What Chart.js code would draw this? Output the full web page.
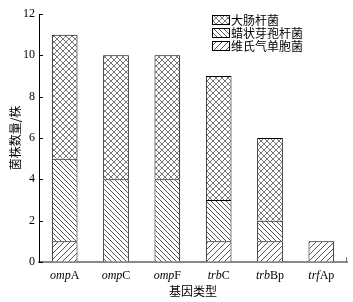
<!DOCTYPE html>
<html>
<head>
<meta charset="utf-8">
<script src="https://cdn.jsdelivr.net/npm/chart.js@4.4.0/dist/chart.umd.min.js"></script>
<style>
  html, body { margin: 0; padding: 0; background: #fff; }
  #chart { display: block; }
</style>
</head>
<body>
<canvas id="chart" width="353" height="302"></canvas>
<script>
// gene labels: italic prefix + upright suffix
const genePrefix = ['omp', 'omp', 'omp', 'trb', 'trb', 'trf'];
const geneSuffix = ['A', 'C', 'F', 'C', 'Bp', 'Ap'];
const categories = genePrefix.map((p, i) => p + geneSuffix[i]);

// strain counts per gene (bottom -> top of stack)
const aeromonas = [1, 0, 0, 1, 1, 1];   // 维氏气单胞菌
const bcereus   = [4, 4, 4, 2, 1, 0];   // 蜡状芽孢杆菌
const ecoli     = [6, 6, 6, 6, 4, 0];   // 大肠杆菌

const seriesNames = ['维氏气单胞菌', '蜡状芽孢杆菌', '大肠杆菌'];
const yTicks = [0, 2, 4, 6, 8, 10, 12];

const serif = "'Liberation Serif', 'DejaVu Serif', serif";
const cjk = "'Noto Sans CJK SC', sans-serif";

// hatch patterns
function makeHatch(kind, size, color) {
    const c = document.createElement('canvas');
    c.width = size; c.height = size;
    const g = c.getContext('2d');
    g.fillStyle = '#fff';
    g.fillRect(0, 0, size, size);
    g.strokeStyle = color;
    g.lineWidth = 1;
    g.beginPath();
    if (kind === 'back' || kind === 'cross') {
        g.moveTo(-1, -1); g.lineTo(size + 1, size + 1);
        g.moveTo(-1, size - 1); g.lineTo(1, size + 1);
        g.moveTo(size - 1, -1); g.lineTo(size + 1, 1);
    }
    if (kind === 'fwd' || kind === 'cross') {
        g.moveTo(-1, size + 1); g.lineTo(size + 1, -1);
        g.moveTo(-1, 1); g.lineTo(1, -1);
        g.moveTo(size - 1, size + 1); g.lineTo(size + 1, size - 1);
    }
    g.stroke();
    return document.getElementById('chart').getContext('2d').createPattern(c, 'repeat');
}

const patFwd = makeHatch('fwd', 6, '#555');
const patBack = makeHatch('back', 5, '#555');
const patCross = makeHatch('cross', 6, '#777');
const patterns = [patFwd, patBack, patCross];

// inward y ticks, right-end x tick, gene labels, legend
const extras = {
    id: 'extras',
    afterDraw(chart) {
        const ctx = chart.ctx;
        const area = chart.chartArea;
        const x = chart.scales.x, y = chart.scales.y;
        ctx.save();
        ctx.strokeStyle = '#000';
        ctx.lineWidth = 1;
        y.ticks.forEach((t, i) => {
            const py = Math.round(y.getPixelForTick(i)) + 0.5;
            ctx.beginPath();
            ctx.moveTo(area.left, py);
            ctx.lineTo(area.left + 4, py);
            ctx.stroke();
        });
        ctx.strokeStyle = '#777';
        ctx.beginPath();
        ctx.moveTo(area.right - 0.5, area.bottom);
        ctx.lineTo(area.right - 0.5, area.bottom - 5);
        ctx.stroke();

        // gene labels
        ctx.fillStyle = '#000';
        ctx.textBaseline = 'middle';
        categories.forEach((c, i) => {
            const cx = x.getPixelForValue(i);
            ctx.font = 'italic 12px ' + serif;
            const w1 = ctx.measureText(genePrefix[i]).width;
            ctx.font = '12px ' + serif;
            const w2 = ctx.measureText(geneSuffix[i]).width;
            const sx = cx - (w1 + w2) / 2;
            ctx.textAlign = 'left';
            ctx.font = 'italic 12px ' + serif;
            ctx.fillText(genePrefix[i], sx, area.bottom + 14);
            ctx.font = '12px ' + serif;
            ctx.fillText(geneSuffix[i], sx + w1, area.bottom + 14);
        });

        // legend (top series first)
        ctx.font = '12px ' + cjk;
        for (let k = 0; k < 3; k++) {
            const di = 2 - k;
            const ly = 15 + k * 13;
            ctx.fillStyle = patterns[di];
            ctx.fillRect(212, ly, 17, 9);
            ctx.strokeStyle = '#000';
            ctx.strokeRect(212.5, ly + 0.5, 17, 9);
            ctx.fillStyle = '#000';
            ctx.fillText(seriesNames[di], 231, ly + 5);
        }
        ctx.restore();
    }
};

const ctx = document.getElementById('chart').getContext('2d');
const chart = new Chart(ctx, {
    type: 'bar',
    data: {
        labels: categories,
        datasets: [aeromonas, bcereus, ecoli].map((d, i) => ({
            label: seriesNames[i],
            data: d,
            backgroundColor: patterns[i],
            borderColor: '#000',
            borderWidth: { top: 1, left: 1, right: 1, bottom: 0 },
            borderSkipped: false,
            barPercentage: 0.5,
            categoryPercentage: 1
        }))
    },
    options: {
        responsive: false,
        animation: false,
        layout: { padding: { top: 14, right: 6, left: 0, bottom: 0 } },
        plugins: {
            legend: { display: false },
            tooltip: { enabled: false }
        },
        scales: {
            x: {
                stacked: true,
                offset: true,
                grid: { display: false },
                border: { display: true, color: '#888', width: 2 },
                ticks: { display: false },
                title: {
                    display: true,
                    text: '基因类型',
                    color: '#000',
                    font: { family: cjk, size: 12 },
                    padding: { top: 0, bottom: 3 }
                },
                afterFit(scale) { scale.height = 40; }
            },
            y: {
                stacked: true,
                min: 0,
                max: 12,
                afterBuildTicks(scale) { scale.ticks = yTicks.map(v => ({ value: v })); },
                grid: { drawOnChartArea: false, drawTicks: false },
                border: { display: true, color: '#000', width: 1 },
                ticks: {
                    color: '#000',
                    padding: 4,
                    font: { family: serif, size: 12 }
                },
                title: {
                    display: true,
                    text: '菌株数量/株',
                    color: '#000',
                    font: { family: cjk, size: 12 },
                    padding: { top: 8, bottom: 0 }
                },
                afterFit(scale) { scale.width = 39; }
            }
        }
    },
    plugins: [extras]
});
</script>
</body>
</html>
